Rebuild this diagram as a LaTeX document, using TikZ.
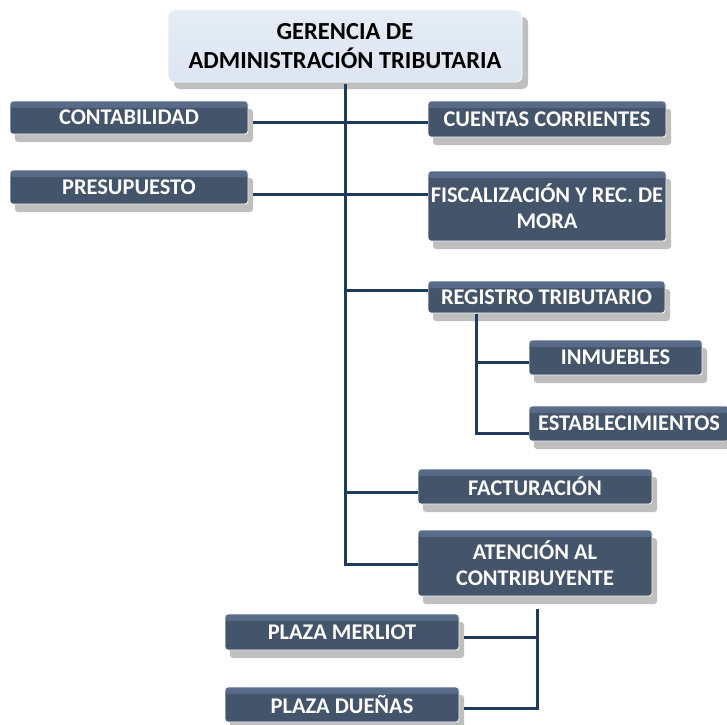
\documentclass[tikz,border=0pt]{standalone}
\usepackage{fontspec}
\setmainfont{Carlito}
\usetikzlibrary{shadows}
\definecolor{boxblue}{HTML}{44546A}
\definecolor{boxtop}{HTML}{5A6D8C}
\definecolor{lineblue}{HTML}{1F3A5F}
\definecolor{titlefill}{HTML}{DCE6F2}
\definecolor{shadowgray}{HTML}{BFBFBF}
\tikzset{
  x=1pt, y=1pt,
  unit/.style={rectangle, rounded corners=3pt, draw=white, line width=0.8pt,
    fill=boxblue, text=white, font=\fontsize{22.4}{25.5}\selectfont\bfseries,
    align=center, inner sep=0pt,
    path picture={\shade[top color=boxtop, bottom color=boxblue]
      (path picture bounding box.north west) rectangle ([yshift=-7pt]path picture bounding box.north east);},
    drop shadow={shadow xshift=5pt, shadow yshift=-8pt, fill=shadowgray, opacity=1}},
  headbox/.style={rectangle, rounded corners=6pt, draw=white, line width=0.8pt,
    top color=titlefill!75!white, bottom color=titlefill, text=black,
    font=\fontsize{24.5}{29.5}\selectfont\bfseries, align=center, inner sep=0pt,
    drop shadow={shadow xshift=6pt, shadow yshift=-7pt, fill=shadowgray, opacity=1}},
  conn/.style={draw=lineblue, line width=3pt}
}
\begin{document}
\begin{tikzpicture}
\useasboundingbox (0,0) rectangle (727,-724);
\node[headbox, minimum width=354pt, minimum height=72pt] (title) at (345,-46) {GERENCIA DE\\ADMINISTRACIÓN TRIBUTARIA};
\coordinate (tbase) at (345,-84);
\node[unit, minimum width=238pt, minimum height=33pt] (conta) at (129,-117.5) {CONTABILIDAD};
\node[unit, minimum width=238pt, minimum height=34pt] (presu) at (129,-187) {PRESUPUESTO};
\node[unit, minimum width=238pt, minimum height=36pt] (cuentas) at (547,-119) {CUENTAS CORRIENTES};
\node[unit, minimum width=238pt, minimum height=70pt] (fisca) at (547,-206) {FISCALIZACIÓN Y REC. DE\\MORA};
\node[unit, minimum width=237pt, minimum height=32pt] (registro) at (546.5,-297) {REGISTRO TRIBUTARIO};
\node[unit, minimum width=173pt, minimum height=35pt] (inmuebles) at (615.5,-357.5) {INMUEBLES};
\node[unit, minimum width=200pt, minimum height=35pt] (establec) at (629,-423.5) {ESTABLECIMIENTOS};
\node[unit, minimum width=234pt, minimum height=35pt] (factur) at (535,-486.5) {FACTURACIÓN};
\node[unit, minimum width=234pt, minimum height=66pt] (atencion) at (535,-563) {ATENCIÓN AL\\CONTRIBUYENTE};
\node[unit, minimum width=234pt, minimum height=36pt] (merliot) at (342,-632) {PLAZA MERLIOT};
\node[unit, minimum width=234pt, minimum height=35pt] (duenas) at (342,-704.5) {PLAZA DUEÑAS};
% connectors
\draw[conn] (tbase) |- ([yshift=-1pt]atencion.west);
\draw[conn] ([xshift=5pt,yshift=-5pt]conta.east) -- ([yshift=-5pt]conta.east -| cuentas.west);
\draw[conn] ([xshift=5pt,yshift=-7pt]presu.east) -- ([yshift=-7pt]presu.east -| fisca.west);
\draw[conn] ([yshift=7pt]registro.west) -- ([yshift=7pt]registro.west -| tbase);
\draw[conn] ([yshift=-5.5pt]factur.west) -- ([yshift=-5.5pt]factur.west -| tbase);
\coordinate (rs) at ([xshift=-70.5pt,yshift=-1pt]registro.south);
\draw[conn] (rs) |- ([yshift=-9.5pt]establec.west);
\draw[conn] ([yshift=-4.5pt]inmuebles.west) -- ([yshift=-4.5pt]inmuebles.west -| rs);
\coordinate (as) at ([xshift=2pt,yshift=-13pt]atencion.south);
\draw[conn] (as) |- ([xshift=5pt,yshift=-3.5pt]duenas.east);
\draw[conn] ([xshift=5pt,yshift=-5pt]merliot.east) -- ([yshift=-5pt]merliot.east -| as);
\end{tikzpicture}
\end{document}
